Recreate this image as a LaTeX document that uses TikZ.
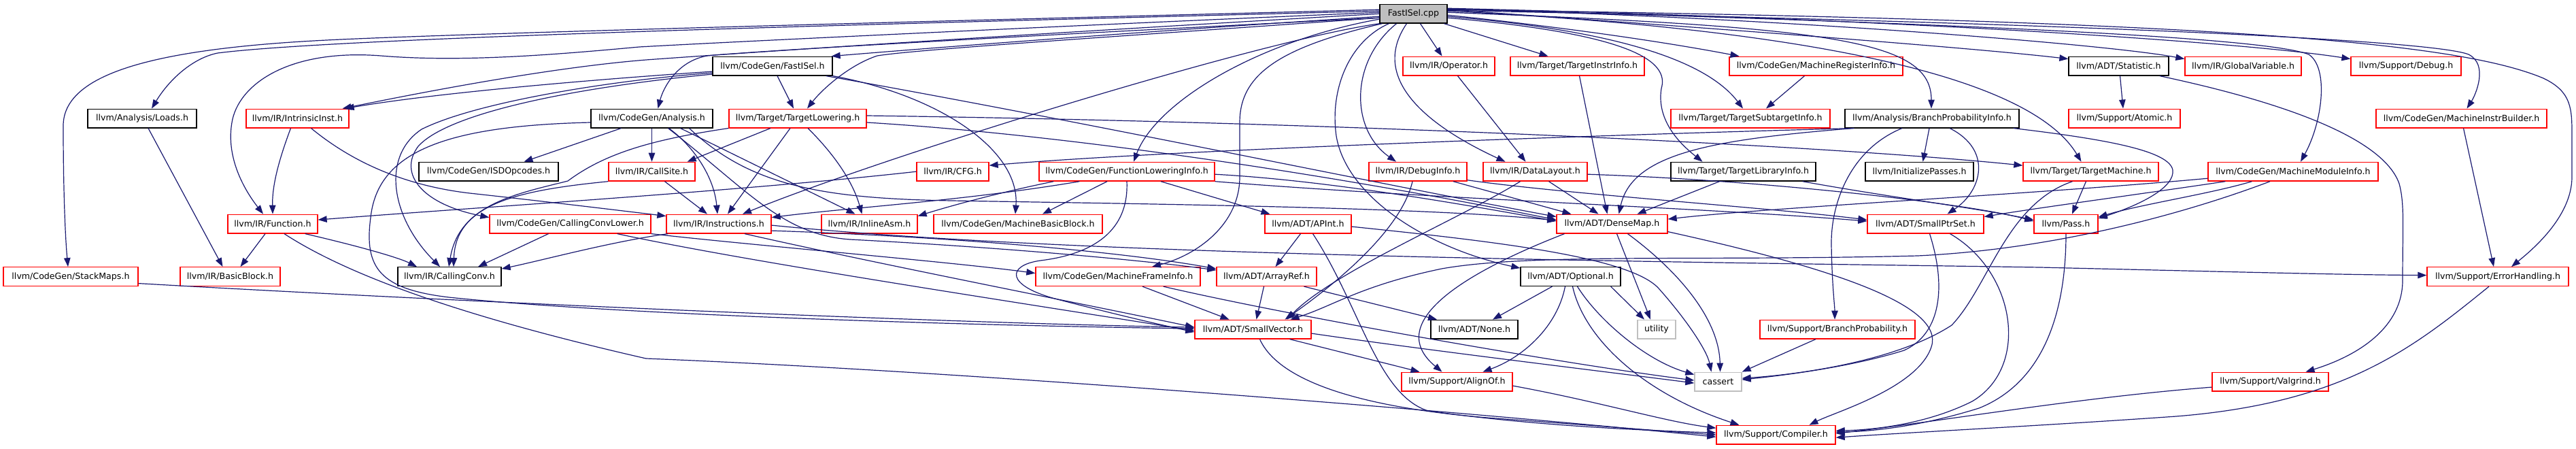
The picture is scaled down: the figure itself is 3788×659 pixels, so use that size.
\documentclass[tikz,border=0pt]{standalone}
\usepackage{fontspec}
\setmainfont{DejaVu Sans}
\usetikzlibrary{arrows.meta}
\definecolor{edgec}{RGB}{25,25,112}
\definecolor{grayf}{RGB}{191,191,191}
\tikzset{
 nb/.style={draw, rectangle, line width=1.3pt, minimum height=27.7pt, inner sep=0pt, font=\fontsize{12.6}{14}\selectfont, text=black},
 trunc/.style={nb, draw=red},
 full/.style={nb, draw=black},
 ext/.style={nb, draw=grayf},
 edg/.style={draw=edgec, line width=1.2pt, -{Triangle[length=13pt,width=9.5pt]}}
}
\newcommand\gnode[6]{\node[#1, minimum width={#4-#3}] (#2) at ({(#3+#4)/2},#5) {#6};}
\begin{document}
\begin{tikzpicture}[x=1pt,y=-1pt]
\useasboundingbox (0,0) rectangle (3788,659);
% row 0
\gnode{full,fill=grayf}{cpp}{2029}{2128}{20.2}{FastISel.cpp}
% row 1
\gnode{full}{fastiselh}{1048}{1224}{97.1}{llvm/CodeGen/FastISel.h}
\gnode{trunc}{operator}{2063}{2198}{97.1}{llvm/IR/Operator.h}
\gnode{trunc}{tii}{2221}{2418}{97.1}{llvm/Target/TargetInstrInfo.h}
\gnode{trunc}{mri}{2543}{2798}{97.1}{llvm/CodeGen/MachineRegisterInfo.h}
\gnode{full}{statistic}{3042}{3189}{97.1}{llvm/ADT/Statistic.h}
\gnode{trunc}{globalvar}{3213}{3384}{97.1}{llvm/IR/GlobalVariable.h}
\gnode{trunc}{debug}{3457}{3619}{97.1}{llvm/Support/Debug.h}
% row 2
\gnode{full}{loads}{129}{289}{174}{llvm/Analysis/Loads.h}
\gnode{trunc}{intrinsic}{362}{513}{174}{llvm/IR/IntrinsicInst.h}
\gnode{full}{cgana}{869}{1048}{174}{llvm/CodeGen/Analysis.h}
\gnode{trunc}{tlowering}{1072}{1274}{174}{llvm/Target/TargetLowering.h}
\gnode{trunc}{tsi}{2457}{2691}{174}{llvm/Target/TargetSubtargetInfo.h}
\gnode{full}{bpi}{2713}{2969}{174}{llvm/Analysis/BranchProbabilityInfo.h}
\gnode{trunc}{atomic}{3042}{3206}{174}{llvm/Support/Atomic.h}
\gnode{trunc}{mib}{3494}{3745}{174}{llvm/CodeGen/MachineInstrBuilder.h}
% row 3
\gnode{full}{isdop}{616}{821}{252.2}{llvm/CodeGen/ISDOpcodes.h}
\gnode{trunc}{callsite}{895}{1022}{252.2}{llvm/IR/CallSite.h}
\gnode{trunc}{cfg}{1348}{1454}{252.2}{llvm/IR/CFG.h}
\gnode{trunc}{fli}{1528}{1786}{252.2}{llvm/CodeGen/FunctionLoweringInfo.h}
\gnode{trunc}{debuginfo}{2013}{2157}{252.2}{llvm/IR/DebugInfo.h}
\gnode{trunc}{datalayout}{2181}{2334}{252.2}{llvm/IR/DataLayout.h}
\gnode{full}{tli}{2457}{2670}{252.2}{llvm/Target/TargetLibraryInfo.h}
\gnode{full}{initpasses}{2743}{2902}{252.2}{llvm/InitializePasses.h}
\gnode{trunc}{tm}{2975}{3174}{252.2}{llvm/Target/TargetMachine.h}
\gnode{trunc}{mmi}{3247}{3497}{252.2}{llvm/CodeGen/MachineModuleInfo.h}
% row 4
\gnode{trunc}{function}{335}{467}{329.1}{llvm/IR/Function.h}
\gnode{trunc}{ccl}{720}{957}{329.1}{llvm/CodeGen/CallingConvLower.h}
\gnode{trunc}{instructions}{980}{1134}{329.1}{llvm/IR/Instructions.h}
\gnode{trunc}{inlineasm}{1208}{1349}{329.1}{llvm/IR/InlineAsm.h}
\gnode{trunc}{mbb}{1373}{1621}{329.1}{llvm/CodeGen/MachineBasicBlock.h}
\gnode{trunc}{apint}{1860}{1987}{329.1}{llvm/ADT/APInt.h}
\gnode{trunc}{densemap}{2289}{2452}{329.1}{llvm/ADT/DenseMap.h}
\gnode{trunc}{smallptrset}{2746}{2917}{329.1}{llvm/ADT/SmallPtrSet.h}
\gnode{trunc}{pass}{2991}{3085}{329.1}{llvm/Pass.h}
% row 5
\gnode{trunc}{stackmaps}{5}{203}{406.6}{llvm/CodeGen/StackMaps.h}
\gnode{trunc}{basicblock}{265}{412}{406.6}{llvm/IR/BasicBlock.h}
\gnode{full}{callingconv}{585}{737}{406.6}{llvm/IR/CallingConv.h}
\gnode{trunc}{mfi}{1523}{1765}{406.6}{llvm/CodeGen/MachineFrameInfo.h}
\gnode{trunc}{arrayref}{1789}{1936}{406.6}{llvm/ADT/ArrayRef.h}
\gnode{full}{optional}{2236}{2383}{406.6}{llvm/ADT/Optional.h}
\gnode{trunc}{errorhandling}{3569}{3777}{406.6}{llvm/Support/ErrorHandling.h}
% row 6
\gnode{trunc}{smallvector}{1757}{1928}{484.1}{llvm/ADT/SmallVector.h}
\gnode{full}{none}{2104}{2232}{484.1}{llvm/ADT/None.h}
\gnode{ext}{utility}{2408}{2464}{484.1}{utility}
\gnode{trunc}{bp}{2588}{2816}{484.1}{llvm/Support/BranchProbability.h}
% row 7
\gnode{trunc}{alignof}{2061}{2224}{561.1}{llvm/Support/AlignOf.h}
\gnode{ext}{cassert}{2492}{2561}{561.1}{cassert}
\gnode{trunc}{valgrind}{3253}{3424}{561.1}{llvm/Support/Valgrind.h}
% row 8
\gnode{trunc}{compiler}{2524}{2699}{639.2}{llvm/Support/Compiler.h}

% ---- edges from FastISel.cpp
\draw[edg] ([yshift=6]cpp.west) .. controls (1500,28) and (700,48) .. (480,59) .. controls (220,72) and (93,110) .. (93,185) .. controls (93,280) and (96,350) .. ([xshift=-4]stackmaps.north);
\draw[edg] ([yshift=4]cpp.west) .. controls (1300,35) and (500,55) .. (320,78) .. controls (285,85) and (250,115) .. ([xshift=14]loads.north);
\draw[edg] ([yshift=2]cpp.west) .. controls (1700,32) and (1100,60) .. (940,69) .. controls (820,80) and (680,92) .. (560,82) .. controls (430,72) and (355,120) .. (342,175) .. controls (330,230) and (360,280) .. ([xshift=-14]function.north);
\draw[edg] (cpp.west) .. controls (1600,45) and (1200,70) .. (950,88) .. controls (800,100) and (600,140) .. ([xshift=-10]intrinsic.north east);
\draw[edg] ([yshift=-4]cpp.west) .. controls (1700,45) and (1400,68) .. ([xshift=-2]fastiselh.north east);
\draw[edg] ([yshift=-6]cpp.west) .. controls (1600,48) and (1150,72) .. (1040,82) .. controls (995,90) and (975,130) .. ([xshift=9]cgana.north);
\draw[edg] ([yshift=-6]cpp.west) .. controls (1700,50) and (1350,72) .. (1290,82) .. controls (1250,95) and (1210,130) .. ([xshift=14]tlowering.north);
\draw[edg] (cpp.south west) .. controls (1850,60) and (1300,230) .. ([xshift=35]instructions.north);
\draw[edg] ([yshift=-8]cpp.west) .. controls (1850,60) and (1700,150) .. ([xshift=10]fli.north);
\draw[edg] ([xshift=4]cpp.south west) .. controls (1880,70) and (1823,110) .. (1823,180) -- (1823,260) .. controls (1823,330) and (1760,375) .. ([xshift=50]mfi.north);
\draw[edg] ([xshift=14]cpp.south west) .. controls (1985,60) and (1955,130) .. (1965,200) .. controls (1980,290) and (2100,365) .. ([yshift=-2]optional.north west);
\draw[edg] ([xshift=-25]cpp.south) .. controls (1985,90) and (1985,190) .. ([xshift=-32]debuginfo.north);
\draw[edg] ([xshift=-10]cpp.south) .. controls (2010,120) and (2110,190) .. ([xshift=-44]datalayout.north);
\draw[edg] ([xshift=10]cpp.south) -- ([xshift=-10]operator.north);
\draw[edg] ([xshift=45]cpp.south) -- ([xshift=-43]tii.north);
\draw[edg] ([yshift=-2]cpp.east) .. controls (2300,40) and (2450,62) .. ([xshift=-113]mri.north);
\draw[edg] ([yshift=-4]cpp.east) .. controls (2380,45) and (2510,90) .. ([xshift=-11]tsi.north);
\draw[edg] ([yshift=-6]cpp.east) .. controls (2400,50) and (2455,90) .. (2443,130) .. controls (2435,180) and (2475,215) .. ([xshift=-60]tli.north);
\draw[edg] ([yshift=2]cpp.east) .. controls (2700,40) and (2840,60) .. ([xshift=-1]bpi.north);
\draw[edg] ([yshift=4]cpp.east) .. controls (2700,45) and (2990,120) .. ([xshift=-14]tm.north);
\draw[edg] ([yshift=6]cpp.east) .. controls (2500,40) and (2900,70) .. ([yshift=-4]statistic.north west);
\draw[edg] ([yshift=7]cpp.east) .. controls (2600,25) and (3100,65) .. ([yshift=-4]globalvar.north west);
\draw[edg] ([yshift=8]cpp.east) .. controls (2800,28) and (3300,62) .. ([yshift=-4]debug.north west);
\draw[edg] ([yshift=7]cpp.east) .. controls (2900,35) and (3330,55) .. (3395,80) .. controls (3425,100) and (3415,180) .. ([xshift=11]mmi.north);
\draw[edg] ([yshift=5]cpp.east) .. controls (3100,35) and (3580,60) .. (3630,80) .. controls (3660,95) and (3640,140) .. ([xshift=8]mib.north);
\draw[edg] ([yshift=6]cpp.east) .. controls (3300,30) and (3620,65) .. (3740,115) .. controls (3782,135) and (3782,160) .. (3782,200) -- (3782,260) .. controls (3782,320) and (3720,370) .. ([xshift=20]errorhandling.north);

% ---- FastISel.h
\draw[edg] ([yshift=-8]fastiselh.west) .. controls (900,115) and (650,135) .. ([xshift=-6]intrinsic.north east);
\draw[edg] ([yshift=-10]fastiselh.west) .. controls (900,118) and (700,150) .. (620,190) .. controls (560,230) and (575,320) .. ([xshift=-14]callingconv.north);
\draw[edg] ([yshift=-12]fastiselh.west) .. controls (850,128) and (660,165) .. (615,215) .. controls (585,255) and (620,300) .. ([yshift=-5]ccl.north west);
\draw[edg] ([xshift=7]fastiselh.south) -- ([xshift=-6]tlowering.north);
\draw[edg] ([xshift=-10]fastiselh.south east) .. controls (1600,180) and (2000,265) .. ([yshift=-4]densemap.north west);
\draw[edg] (fastiselh.south east) .. controls (1380,140) and (1500,220) .. ([xshift=-4]mbb.north);

% ---- CodeGen/Analysis.h
\draw[edg] ([xshift=-45]cgana.south) -- ([xshift=52]isdop.north);
\draw[edg] (cgana.south) -- (callsite.north);
\draw[edg] ([xshift=25]cgana.south) .. controls (1020,215) and (1050,260) .. ([xshift=-2]instructions.north);
\draw[edg] ([xshift=42]cgana.south) -- ([xshift=-21]inlineasm.north);
\draw[edg] ([xshift=24]cgana.south) .. controls (1100,280) and (1150,345) .. (1250,352) .. controls (1500,365) and (1700,385) .. ([yshift=-5]arrayref.north west);
\draw[edg] ([xshift=55]cgana.south) .. controls (1100,270) and (1200,292) .. (1400,295) .. controls (1700,300) and (2100,305) .. ([yshift=5]densemap.west);
\draw[edg] ([yshift=-6]cgana.west) .. controls (650,185) and (555,225) .. (545,320) .. controls (535,395) and (560,425) .. (660,437) .. controls (900,462) and (1400,478) .. ([yshift=1]smallvector.west);

% ---- TargetLowering.h
\draw[edg] ([xshift=-40]tlowering.south) -- ([xshift=-12]callsite.north east);
\draw[edg] ([xshift=-11]tlowering.south) -- ([xshift=13]instructions.north);
\draw[edg] ([xshift=15]tlowering.south) .. controls (1230,230) and (1255,270) .. ([xshift=-11]inlineasm.north);
\draw[edg] (tlowering.south west) .. controls (960,205) and (890,225) .. (835,266) .. controls (760,285) and (675,300) .. ([xshift=-1]callingconv.north);
\draw[edg] ([yshift=-6]tlowering.east) .. controls (1600,200) and (2000,265) .. ([yshift=6]densemap.west);
\draw[edg] ([yshift=4]tlowering.east) .. controls (2000,180) and (2700,215) .. ([yshift=9]tm.west);

% ---- IntrinsicInst.h, CallSite.h, CFG.h
\draw[edg] ([xshift=-10]intrinsic.south) .. controls (412,230) and (400,270) .. (function.north);
\draw[edg] ([xshift=20]intrinsic.south) .. controls (520,240) and (600,275) .. (700,285) .. controls (800,296) and (900,308) .. ([yshift=-3]instructions.north west);
\draw[edg] ([xshift=19]callsite.south) -- ([xshift=-17]instructions.north);
\draw[edg] (callsite.south west) .. controls (760,280) and (670,300) .. ([xshift=6]callingconv.north);
\draw[edg] (cfg.west) .. controls (1100,280) and (700,305) .. ([yshift=6]function.east);

% ---- FunctionLoweringInfo.h
\draw[edg] ([xshift=-29]fli.south) -- ([xshift=36]mbb.north);
\draw[edg] ([xshift=50]fli.south) -- ([xshift=-56]apint.north);
\draw[edg] ([xshift=22]fli.south west) .. controls (1460,285) and (1390,305) .. ([yshift=-3]inlineasm.north east);
\draw[edg] ([xshift=60]fli.south west) .. controls (1420,295) and (1250,305) .. ([yshift=-5]instructions.north east);
\draw[edg] (fli.south) .. controls (1660,330) and (1620,372) .. (1530,383) .. controls (1480,390) and (1478,420) .. (1555,440) .. controls (1640,462) and (1700,476) .. ([yshift=-4]smallvector.west);
\draw[edg] ([yshift=-4]fli.east) .. controls (1950,265) and (2150,300) .. ([yshift=4]densemap.west);
\draw[edg] (fli.south east) .. controls (2100,292) and (2500,305) .. ([yshift=4]smallptrset.west);

% ---- DebugInfo.h, DataLayout.h, Operator.h, TargetInstrInfo.h, MRI
\draw[edg] ([xshift=52]debuginfo.south) -- ([xshift=-60]densemap.north);
\draw[edg] ([xshift=-8]debuginfo.south) .. controls (2060,340) and (1960,420) .. ([xshift=47]smallvector.north);
\draw[edg] ([yshift=2]debuginfo.south east) .. controls (2300,285) and (2600,305) .. ([yshift=6]smallptrset.west);
\draw[edg] ([xshift=20]datalayout.south) -- ([xshift=-20]densemap.north);
\draw[edg] ([xshift=-22]datalayout.south) .. controls (2150,320) and (1960,400) .. ([xshift=50]smallvector.north);
\draw[edg] ([yshift=-4]datalayout.east) .. controls (2600,265) and (2900,300) .. ([yshift=4]pass.west);
\draw[edg] ([xshift=13]operator.south) -- ([xshift=-14]datalayout.north);
\draw[edg] ([xshift=3]tii.south) -- ([xshift=-7]densemap.north);
\draw[edg] ([xshift=-17]mri.south) -- ([xshift=23]tsi.north);

% ---- TargetLibraryInfo.h
\draw[edg] ([xshift=-35]tli.south) -- ([xshift=37]densemap.north);
\draw[edg] ([xshift=-20]tli.south east) .. controls (2780,290) and (2900,305) .. ([yshift=6]pass.west);

% ---- BranchProbabilityInfo.h
\draw[edg] ([xshift=-115]bpi.south) .. controls (2520,205) and (2400,225) .. ([xshift=10]densemap.north);
\draw[edg] ([xshift=14]bpi.south west) .. controls (2300,200) and (1700,222) .. ([yshift=9]cfg.east);
\draw[edg] ([xshift=-4]bpi.south) -- ([xshift=5]initpasses.north);
\draw[edg] ([xshift=26]bpi.south) .. controls (2930,220) and (2915,280) .. ([xshift=32]smallptrset.north);
\draw[edg] ([xshift=-9]bpi.south east) .. controls (3100,205) and (3190,222) .. (3195,250) .. controls (3198,275) and (3150,300) .. ([yshift=8]pass.east);
\draw[edg] ([xshift=-44]bpi.south) .. controls (2720,220) and (2692,300) .. (2693,360) .. controls (2694,420) and (2698,450) .. ([xshift=-4]bp.north);

% ---- Statistic.h
\draw[edg] ([xshift=2]statistic.south) -- ([xshift=-2]atomic.north);
\draw[edg] ([xshift=-14]statistic.south east) .. controls (3300,138) and (3500,190) .. (3528,270) .. controls (3536,300) and (3533,330) .. (3533,412) .. controls (3533,480) and (3470,522) .. ([xshift=52]valgrind.north);

% ---- MachineModuleInfo.h
\draw[edg] ([yshift=-10]mmi.west) .. controls (3000,285) and (2600,305) .. ([yshift=7]densemap.east);
\draw[edg] ([xshift=26]mmi.south west) .. controls (3150,285) and (3000,305) .. ([yshift=-4]smallptrset.north east);
\draw[edg] ([xshift=65]mmi.south west) .. controls (3250,285) and (3150,300) .. ([yshift=10]pass.east);
\draw[edg] ([xshift=-34]mmi.south) .. controls (3250,300) and (3050,365) .. (2820,376) .. controls (2500,384) and (2250,372) .. (2120,395) .. controls (2000,420) and (1960,450) .. ([xshift=55]smallvector.north);

% ---- TargetMachine.h, SmallPtrSet.h, Pass.h
\draw[edg] ([xshift=-7]tm.south) -- ([xshift=9]pass.north);
\draw[edg] ([xshift=-27]tm.south) .. controls (2950,300) and (2925,420) .. (2870,478) .. controls (2790,530) and (2650,550) .. ([yshift=5]cassert.east);
\draw[edg] ([xshift=6]smallptrset.south) .. controls (2862,420) and (2855,490) .. (2800,515) .. controls (2720,540) and (2620,552) .. ([yshift=3]cassert.east);
\draw[edg] ([xshift=36]smallptrset.south) .. controls (2965,400) and (2985,540) .. (2900,590) .. controls (2830,625) and (2750,632) .. ([yshift=6]compiler.east);
\draw[edg] (pass.south) .. controls (3038,450) and (3010,560) .. (2910,600) .. controls (2820,628) and (2750,634) .. ([yshift=4]compiler.east);

% ---- DenseMap.h
\draw[edg] ([xshift=7]densemap.south) -- ([xshift=-9]utility.north);
\draw[edg] ([xshift=23]densemap.south) .. controls (2470,400) and (2528,470) .. ([xshift=3]cassert.north);
\draw[edg] ([xshift=-70]densemap.south) .. controls (2130,410) and (2040,480) .. ([xshift=-22]alignof.north);
\draw[edg] ([yshift=3]densemap.south east) .. controls (2700,395) and (2860,450) .. (2840,510) .. controls (2820,570) and (2700,605) .. ([xshift=49]compiler.north);

% ---- APInt.h, ArrayRef.h, Optional.h
\draw[edg] ([xshift=-11]apint.south) -- ([xshift=13]arrayref.north);
\draw[edg] ([xshift=7]apint.south) .. controls (2000,450) and (2025,580) .. (2100,604) .. controls (2250,625) and (2400,632) .. ([yshift=3]compiler.west);
\draw[edg] ([yshift=-4]apint.east) .. controls (2200,355) and (2400,378) .. (2440,425) .. controls (2480,470) and (2510,515) .. ([xshift=-10]cassert.north);
\draw[edg] ([xshift=-4]arrayref.south) -- ([xshift=5]smallvector.north);
\draw[edg] ([xshift=55]arrayref.south) -- ([xshift=-55]none.north);
\draw[edg] ([xshift=-27]optional.south) -- ([xshift=27]none.north);
\draw[edg] ([xshift=-8]optional.south) .. controls (2290,480) and (2240,525) .. ([xshift=38]alignof.north);
\draw[edg] ([xshift=-15]optional.south east) -- ([xshift=-18]utility.north);
\draw[edg] ([xshift=10]optional.south) .. controls (2350,470) and (2420,530) .. ([yshift=-4]cassert.north west);
\draw[edg] ([xshift=3]optional.south) .. controls (2330,500) and (2420,580) .. ([xshift=-54]compiler.north);

% ---- SmallVector.h, MachineFrameInfo.h
\draw[edg] ([xshift=54]smallvector.south) -- ([xshift=-55]alignof.north);
\draw[edg] ([yshift=-6]smallvector.east) .. controls (2100,515) and (2350,545) .. ([yshift=-2]cassert.west);
\draw[edg] ([xshift=10]smallvector.south) .. controls (1880,560) and (2000,600) .. (2200,615) .. controls (2350,626) and (2450,634) .. (compiler.west);
\draw[edg] ([xshift=36]mfi.south) -- ([xshift=-35]smallvector.north);
\draw[edg] ([xshift=-55]mfi.south east) .. controls (1900,465) and (2300,535) .. ([yshift=2]cassert.west);

% ---- CallingConvLower.h, Instructions.h
\draw[edg] ([xshift=-32]ccl.south) -- ([xshift=42]callingconv.north);
\draw[edg] (ccl.south east) .. controls (1100,360) and (1400,385) .. ([yshift=5]mfi.west);
\draw[edg] ([xshift=-50]ccl.south east) .. controls (1100,385) and (1500,445) .. ([yshift=-2]smallvector.west);
\draw[edg] ([xshift=3]instructions.south west) .. controls (900,355) and (800,382) .. ([yshift=-3]callingconv.north east);
\draw[edg] ([yshift=-10]instructions.east) .. controls (1400,348) and (1650,370) .. ([yshift=-3]arrayref.north west);
\draw[edg] ([xshift=38]instructions.south) .. controls (1300,390) and (1600,448) .. ([yshift=3]smallvector.west);
\draw[edg] ([yshift=-2]instructions.east) .. controls (1600,378) and (2500,385) .. (3000,393) .. controls (3300,400) and (3450,404) .. ([yshift=2]errorhandling.west);

% ---- Function.h, Loads.h, StackMaps.h
\draw[edg] ([xshift=-11]function.south) -- ([xshift=15]basicblock.north);
\draw[edg] ([xshift=-19]function.south east) .. controls (520,360) and (585,378) .. ([xshift=-48]callingconv.north);
\draw[edg] ([xshift=17]function.south) .. controls (520,410) and (700,470) .. (950,527) .. controls (1400,545) and (2100,600) .. ([yshift=-3]compiler.west);
\draw[edg] ([xshift=9]loads.south) -- ([xshift=-11]basicblock.north);
\draw[edg] ([yshift=-10]stackmaps.east) .. controls (700,445) and (1400,475) .. ([yshift=3]smallvector.west);

% ---- leaves to Compiler / cassert / ErrorHandling
\draw[edg] ([xshift=-32]bp.south) -- (cassert.north east);
\draw[edg] ([xshift=-13]errorhandling.south) .. controls (3550,510) and (3450,592) .. (3200,612) .. controls (3000,626) and (2800,636) .. ([yshift=-4]compiler.east);
\draw[edg] ([xshift=3]mib.south) -- ([xshift=-6]errorhandling.north);
\draw[edg] ([yshift=-8]valgrind.west) .. controls (3050,585) and (2850,620) .. ([yshift=2]compiler.east);
\draw[edg] ([yshift=-6]alignof.east) .. controls (2350,590) and (2450,620) .. ([yshift=10]compiler.west);
\end{tikzpicture}
\end{document}
